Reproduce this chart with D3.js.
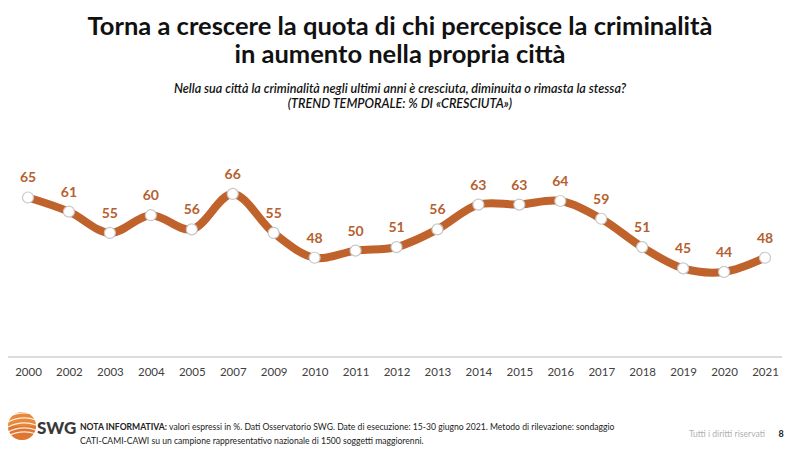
<!DOCTYPE html>
<html><head><meta charset="utf-8">
<script src="https://cdn.jsdelivr.net/npm/d3@7"></script>
<style>body{margin:0;background:#fff}svg{display:block}</style>
</head><body>
<svg id="c" width="800" height="450"></svg>
<script>
const years = ["2000","2002","2003","2004","2005","2007","2009","2010","2011","2012","2013","2014","2015","2016","2017","2018","2019","2020","2021"];
const values = [65,61,55,60,56,66,55,48,50,51,56,63,63,64,59,51,45,44,48];
const titleLines = ["Torna a crescere la quota di chi percepisce la criminalità","in aumento nella propria città"];
const subtitleLines = ["Nella sua città la criminalità negli ultimi anni è cresciuta, diminuita o rimasta la stessa?","(TREND TEMPORALE: % DI «CRESCIUTA»)"];

const svg = d3.select("#c");
const font = "Lato, 'Open Sans', sans-serif";
const lineColor = "#C0622B";
const labelColor = "#B5602F";

svg.selectAll("text.title").data(titleLines).join("text")
  .attr("x",400).attr("y",(d,i)=>35+i*28).attr("text-anchor","middle")
  .attr("font-family",font).attr("font-weight","bold").attr("font-size",25.5).attr("fill","#111")
  .text(d=>d);
svg.selectAll("text.sub").data(subtitleLines).join("text")
  .attr("x",400).attr("y",(d,i)=>93+i*15).attr("text-anchor","middle")
  .attr("font-family",font).attr("font-style","italic").attr("font-weight","600").attr("font-size",12.6).attr("fill","#111")
  .text(d=>d);

const x = d3.scalePoint().domain(years).range([28,765]);
const y = d3.scaleLinear().domain([20,80]).range([357,144.3]);

// axis
const axis = svg.append("g").attr("transform","translate(0,357)")
  .call(d3.axisBottom(x).tickSize(0).tickPadding(11));
axis.select(".domain").attr("stroke","#d0d0d0").attr("stroke-width",1.5).attr("d","M8,0H782");
axis.selectAll("text").attr("font-family",font).attr("font-size",11.5).attr("fill","#404040");

const line = d3.line().x((d,i)=>x(years[i])).y(d=>y(d)).curve(d3.curveCatmullRom.alpha(0.5));
svg.append("path").datum(values).attr("d",line)
  .attr("fill","none").attr("stroke",lineColor).attr("stroke-width",8).attr("stroke-linejoin","round");

svg.selectAll("circle.pt").data(values).join("circle")
  .attr("cx",(d,i)=>x(years[i])).attr("cy",d=>y(d)).attr("r",5.5)
  .attr("fill","#fff").attr("stroke","#c8c8c8").attr("stroke-width",1.2);

svg.selectAll("text.lbl").data(values).join("text")
  .attr("x",(d,i)=>x(years[i])).attr("y",d=>y(d)-15).attr("text-anchor","middle")
  .attr("font-family",font).attr("font-weight","bold").attr("font-size",14).attr("fill",labelColor)
  .text(d=>d);

// footer logo
const logo = svg.append("g").attr("transform","translate(22,426)");
logo.append("circle").attr("r",14).attr("fill","#E8893A");
logo.append("path").attr("d","M-14,0 A14,14 0 0,0 14,0 Z").attr("fill","#D9692B").attr("opacity",0.6);
[-9,-4,1,6,10].forEach(o=>logo.append("path").attr("d",`M-14,${o} Q0,${o-7} 14,${o-2}`).attr("stroke","#fff").attr("stroke-width",1.3).attr("fill","none").attr("opacity",0.85));
svg.append("text").attr("x",37).attr("y",434).attr("font-family",font).attr("font-weight","900").attr("font-size",17).attr("fill","#3a3a3a").text("SWG");

const note = svg.append("text").attr("font-family",font).attr("font-size",8.6).attr("fill","#222");
note.append("tspan").attr("x",80).attr("y",430).attr("font-weight","bold").text("NOTA INFORMATIVA: ");
note.append("tspan").text("valori espressi in %. Dati Osservatorio SWG. Date di esecuzione:  15-30 giugno 2021. Metodo di rilevazione: sondaggio");
svg.append("text").attr("x",80).attr("y",444).attr("font-family",font).attr("font-size",8.6).attr("fill","#222")
  .text("CATI-CAMI-CAWI su un campione rappresentativo nazionale di 1500 soggetti maggiorenni.");
svg.append("text").attr("x",765).attr("y",437).attr("text-anchor","end").attr("font-family",font).attr("font-size",8.6).attr("fill","#b0b0b0").text("Tutti i diritti riservati");
svg.append("text").attr("x",781).attr("y",437).attr("text-anchor","middle").attr("font-family",font).attr("font-weight","bold").attr("font-size",9).attr("fill","#222").text("8");
</script>
</body></html>
